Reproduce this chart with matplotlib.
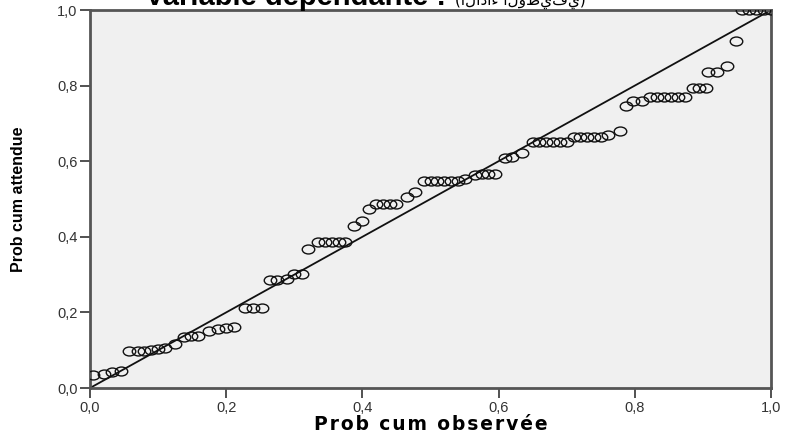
import numpy as np
import matplotlib
matplotlib.use("Agg")
import matplotlib.pyplot as plt
from matplotlib.path import Path
from matplotlib.transforms import Affine2D
from matplotlib.ticker import FuncFormatter

obs = [0.005, 0.02, 0.032, 0.045, 0.058, 0.07, 0.08, 0.09, 0.10, 0.11,
       0.125, 0.138, 0.148, 0.158, 0.175, 0.188, 0.20, 0.212, 0.228, 0.24,
       0.252, 0.265, 0.275, 0.29, 0.30, 0.312, 0.32, 0.335, 0.345, 0.355,
       0.365, 0.375, 0.388, 0.40, 0.41, 0.42, 0.43, 0.44, 0.45, 0.465,
       0.477, 0.49, 0.50, 0.51, 0.52, 0.53, 0.54, 0.55, 0.565, 0.575,
       0.585, 0.595, 0.61, 0.62, 0.635, 0.65, 0.66, 0.67, 0.68, 0.69,
       0.70, 0.71, 0.72, 0.73, 0.74, 0.75, 0.76, 0.778, 0.787, 0.797,
       0.81, 0.823, 0.833, 0.843, 0.853, 0.863, 0.873, 0.885, 0.895, 0.905,
       0.907, 0.92, 0.935, 0.948, 0.958, 0.968, 0.978, 0.99, 1.0]
expd = [0.035, 0.037, 0.042, 0.045, 0.098, 0.098, 0.098, 0.100, 0.103, 0.105,
        0.116, 0.135, 0.137, 0.137, 0.152, 0.155, 0.16, 0.162, 0.212, 0.212,
        0.212, 0.285, 0.285, 0.288, 0.302, 0.302, 0.368, 0.385, 0.385, 0.385,
        0.385, 0.385, 0.428, 0.443, 0.474, 0.488, 0.488, 0.488, 0.488, 0.505,
        0.519, 0.548, 0.548, 0.548, 0.548, 0.548, 0.548, 0.552, 0.563, 0.565,
        0.565, 0.565, 0.608, 0.611, 0.622, 0.651, 0.651, 0.651, 0.651, 0.651,
        0.651, 0.664, 0.665, 0.665, 0.665, 0.665, 0.668, 0.68, 0.746, 0.759,
        0.759, 0.77, 0.77, 0.77, 0.77, 0.77, 0.77, 0.794, 0.794, 0.794,
        0.836, 0.836, 0.852, 0.918, 1.0, 1.0, 1.0, 1.0, 1.0]
ticks = [0.0, 0.2, 0.4, 0.6, 0.8, 1.0]

title = "Variable dépendante :"
title_ar = "(الأداء الوظيفي)"
xlabel = "Prob cum observée"
ylabel = "Prob cum attendue"

fig = plt.figure(figsize=(7.86, 4.37), dpi=100)
ax = fig.add_axes([90 / 786, 49 / 437, 681 / 786, 378 / 437])
ax.set_facecolor('#f0f0f0')

# slightly wide open circles, as in the SPSS export
ell = Path.unit_circle().transformed(Affine2D().scale(1.4, 1.0))
ax.plot([0, 1], [0, 1], color='#111111', linewidth=1.3, zorder=2)
ax.plot(obs, expd, linestyle='none', marker=ell, markersize=9,
        markerfacecolor='none', markeredgecolor='#111111',
        markeredgewidth=1.0, zorder=3)

ax.set_xlim(0, 1)
ax.set_ylim(0, 1)
ax.set_xticks(ticks)
ax.set_yticks(ticks)
fmt = FuncFormatter(lambda v, p: f"{v:.1f}".replace('.', ','))
ax.xaxis.set_major_formatter(fmt)
ax.yaxis.set_major_formatter(fmt)
ax.tick_params(direction='out', length=7, width=1.2, color='#333333',
               labelsize=10.5, labelcolor='#333333', pad=2)
for tl in ax.get_xticklabels() + ax.get_yticklabels():
    tl.set_family('Liberation Sans')
for s in ax.spines.values():
    s.set_color('#555555')
    s.set_linewidth(2)

# slightly spaced-out x title (hair spaces between letters)
spaced = '\u200a'.join(xlabel)
fig.text(431 / 786, 1 - 424 / 437, spaced, fontsize=13.5, fontweight='bold',
         family='DejaVu Sans', ha='center', va='center')
ax.set_ylabel(ylabel, fontsize=11.5, fontweight='bold',
              family='Liberation Sans', labelpad=22)

# title sits mostly above the canvas edge in the reference
fig.text(145 / 786, 1 - 5 / 437, title, fontsize=21, fontweight='bold',
         family='Liberation Sans', va='baseline', ha='left')
fig.text(455 / 786, 1 - 5 / 437, title_ar, fontsize=11,
         family='DejaVu Sans', va='baseline', ha='left')

fig.savefig('out.png', dpi=100)
